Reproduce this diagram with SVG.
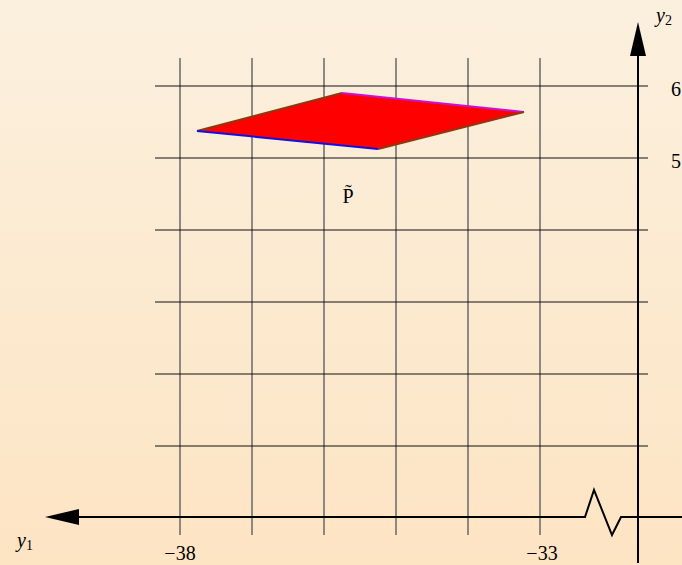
<svg xmlns="http://www.w3.org/2000/svg" width="682" height="565" viewBox="0 0 682 565">
<defs>
<linearGradient id="bg" x1="0" y1="0" x2="0" y2="1">
<stop offset="0" stop-color="#fbf0de"/>
<stop offset="1" stop-color="#fde4c3"/>
</linearGradient>
</defs>
<style>
.vg{stroke:#707070;stroke-width:1.6;fill:none}
.hg{stroke:#111;stroke-width:1;fill:none}
.ax{stroke:#000;stroke-width:2;fill:none}
.t{font-family:"Liberation Serif","DejaVu Serif",serif;font-size:20px;fill:#000}
.it{font-style:italic}
</style>
<rect x="0" y="0" width="682" height="565" fill="url(#bg)"/>
<g id="grid">
<line class="vg" x1="180" y1="58" x2="180" y2="535"/>
<line class="vg" x1="252" y1="58" x2="252" y2="535"/>
<line class="vg" x1="324" y1="58" x2="324" y2="535"/>
<line class="vg" x1="396" y1="58" x2="396" y2="535"/>
<line class="vg" x1="468" y1="58" x2="468" y2="535"/>
<line class="vg" x1="540" y1="58" x2="540" y2="535"/>
<line class="hg" x1="155" y1="86" x2="648" y2="86"/>
<line class="hg" x1="155" y1="158" x2="648" y2="158"/>
<line class="hg" x1="155" y1="230" x2="648" y2="230"/>
<line class="hg" x1="155" y1="302" x2="648" y2="302"/>
<line class="hg" x1="155" y1="374" x2="648" y2="374"/>
<line class="hg" x1="155" y1="446" x2="648" y2="446"/>
</g>
<g id="axes">
<polyline class="ax" points="682,517 621,517 612,535 594,490 585,517 76,517"/>
<polygon points="45,517 79,509 79,525" fill="#000"/>
<line class="ax" x1="638" y1="563" x2="638" y2="54"/>
<polygon points="638,22 630,56 646,56" fill="#000"/>
</g>
<g id="polygon-P">
<polygon points="197,131 342,93 524,112 378,149" fill="#ff0000"/>
<line x1="197" y1="131" x2="342" y2="93" stroke="#8b3a10" stroke-width="2"/>
<line x1="342" y1="93" x2="524" y2="112" stroke="#d010d0" stroke-width="2"/>
<line x1="524" y1="112" x2="378" y2="149" stroke="#8b3a10" stroke-width="2"/>
<line x1="378" y1="149" x2="197" y2="131" stroke="#1010e0" stroke-width="2"/>
</g>
<g id="labels">
<text class="t" x="348" y="203" text-anchor="middle" font-size="22">P̃</text>
<text class="t it" x="656" y="22">y<tspan font-size="14" font-style="normal" dy="3">2</tspan></text>
<text class="t" x="671" y="96">6</text>
<text class="t" x="671" y="168">5</text>
<text class="t it" x="17" y="547">y<tspan font-size="14" font-style="normal" dy="3">1</tspan></text>
<text class="t" x="180" y="560" text-anchor="middle">−38</text>
<text class="t" x="542" y="560" text-anchor="middle">−33</text>
</g>
</svg>
